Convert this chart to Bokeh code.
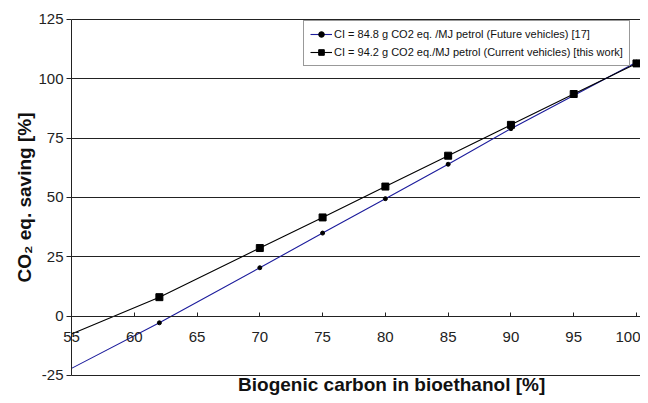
from bokeh.plotting import figure
from bokeh.models import Range1d, Legend, LegendItem, Label, FixedTicker, PrintfTickFormatter
from bokeh.embed import file_html
from bokeh.resources import INLINE

# Data
x_line = [55, 62, 70, 75, 80, 85, 90, 95, 100]
future_y = [-22.0, -2.8, 20.4, 35.0, 49.5, 64.0, 79.0, 93.0, 107.0]
current_y = [-7.5, 8.0, 28.7, 41.6, 54.6, 67.6, 80.6, 93.6, 106.5]
marker_x = x_line[1:]
future_m = future_y[1:]
current_m = current_y[1:]

y_ticks = [-25, 0, 25, 50, 75, 100, 125]
x_ticks = [55, 60, 65, 70, 75, 80, 85, 90, 95, 100]

label_future = "CI = 84.8 g CO2 eq. /MJ petrol (Future vehicles) [17]"
label_current = "CI = 94.2 g CO2 eq./MJ petrol (Current vehicles) [this work]"
x_title = "Biogenic carbon in bioethanol [%]"
y_title = "CO\u2082 eq. saving [%]"

X0, X1 = 49.345, 100.32      # visible ranges (frame spans the whole figure)
Y0, Y1 = -33.43, 133.0

p = figure(width=640, height=395, output_backend="svg", toolbar_location=None,
           x_range=Range1d(X0, X1), y_range=Range1d(Y0, Y1),
           min_border_left=0, min_border_right=0, min_border_top=0, min_border_bottom=0)
p.background_fill_color = "white"
p.border_fill_color = "white"
p.outline_line_color = None

# horizontal grid, limited to the plotting area right of the y axis
p.xgrid.visible = False
p.ygrid.ticker = FixedTicker(ticks=y_ticks)
p.ygrid.grid_line_color = "#222222"
p.ygrid.grid_line_width = 1
try:
    p.ygrid.cross_bounds = (x_ticks[0], X1)
except Exception:
    p.ygrid.visible = False
    p.segment(x0=[x_ticks[0]] * len(y_ticks), y0=y_ticks, x1=[X1] * len(y_ticks), y1=y_ticks,
              line_color="#222222", line_width=1)

# axes at fixed positions inside the frame
p.yaxis.fixed_location = x_ticks[0]
p.yaxis.bounds = (y_ticks[0], y_ticks[-1])
p.yaxis.ticker = FixedTicker(ticks=y_ticks)
p.yaxis.formatter = PrintfTickFormatter(format="%d")
p.xaxis.fixed_location = 0
p.xaxis.bounds = (x_ticks[0], X1)
p.xaxis.ticker = FixedTicker(ticks=x_ticks)
for ax in (p.xaxis[0], p.yaxis[0]):
    ax.major_label_text_font = "Liberation Sans"
    ax.major_label_text_font_size = "15px"
    ax.major_label_text_color = "#222222"
    ax.axis_line_color = "#222222"
    ax.major_tick_line_color = "#222222"
    ax.minor_tick_line_color = None
p.xaxis.major_tick_in = 4
p.xaxis.major_tick_out = 0
p.xaxis.major_label_standoff = 16
p.yaxis.major_tick_in = 0
p.yaxis.major_tick_out = 5
p.yaxis.major_label_standoff = 3
p.yaxis.axis_label = y_title
p.yaxis.axis_label_text_font = "Liberation Sans"
p.yaxis.axis_label_text_font_style = "bold"
p.yaxis.axis_label_text_font_size = "19px"
p.yaxis.axis_label_text_color = "#111111"
p.yaxis.axis_label_standoff = 0

# x axis title, below the plotting area
p.add_layout(Label(x=80.5, y=-25, y_offset=-9, text=x_title,
                   text_align="center", text_baseline="middle",
                   text_font="Liberation Sans", text_font_style="bold",
                   text_font_size="19px", text_color="#111111"))

# series
lf = p.line(x_line, future_y, line_color="#1c1c9c", line_width=1.1)
mf = p.scatter(marker_x, future_m, marker="circle", size=4, fill_color="black", line_color="black")
lc = p.line(x_line, current_y, line_color="black", line_width=1.1)
mc = p.scatter(marker_x, current_m, marker="square", size=7, fill_color="black", line_color="black")

legend = Legend(items=[LegendItem(label=label_future, renderers=[lf, mf]),
                       LegendItem(label=label_current, renderers=[lc, mc])],
                location=(303, 329))
legend.label_text_font = "Liberation Sans"
legend.label_text_font_size = "11px"
legend.label_text_color = "#111111"
legend.border_line_color = "#333333"
legend.border_line_width = 1
legend.background_fill_color = "white"
legend.background_fill_alpha = 1
legend.glyph_width = 22
legend.glyph_height = 14
legend.spacing = 4
legend.padding = 6
legend.label_standoff = 2
legend.margin = 0
p.add_layout(legend)

open("out.html", "w").write(file_html(p, INLINE))
